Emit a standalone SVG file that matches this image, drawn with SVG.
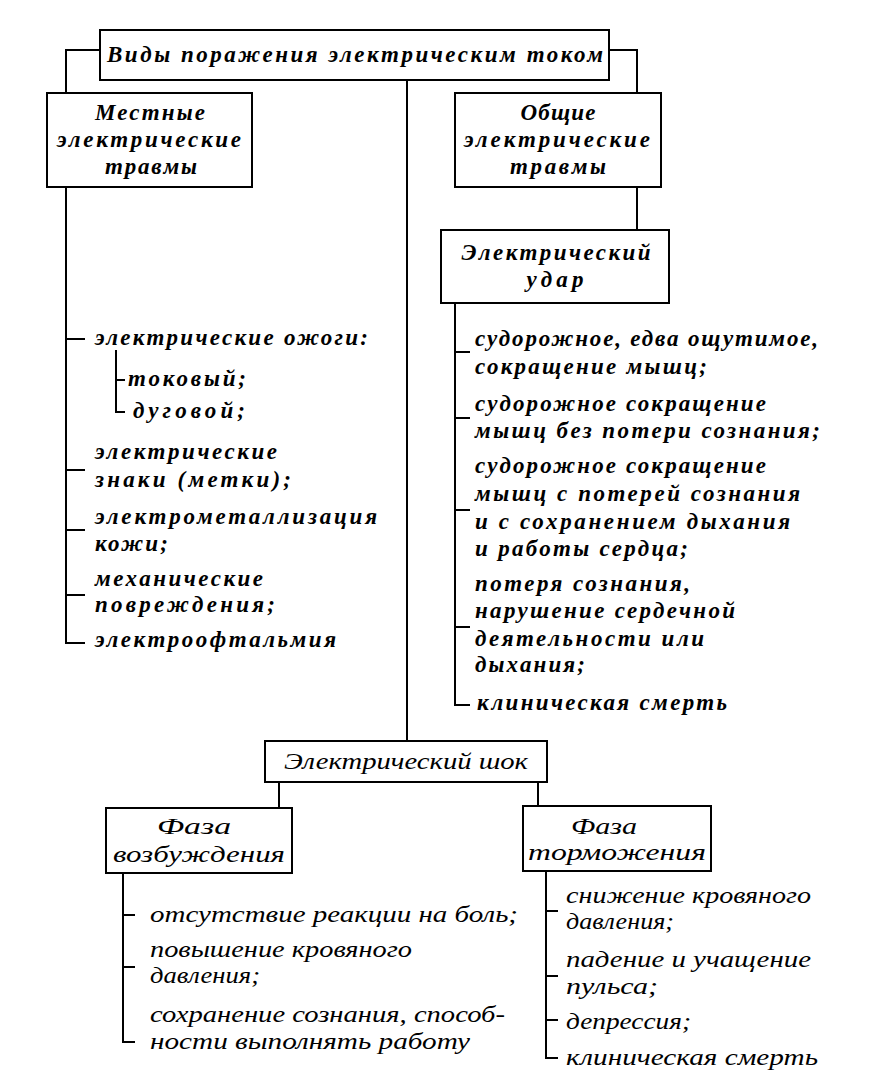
<svg xmlns="http://www.w3.org/2000/svg" width="871" height="1084" viewBox="0 0 871 1084">
<style>
.bx{fill:#fff;stroke:#000;stroke-width:2}
.ln{fill:none;stroke:#000;stroke-width:2}
.t{font-family:"Liberation Serif",serif;font-style:italic;font-weight:bold;font-size:23px;fill:#000}
.c{text-anchor:middle}
.b{font-family:"Liberation Serif",serif;font-style:italic;font-size:24px;fill:#000}
</style>
<rect width="871" height="1084" fill="#fff"/>
<g id="connectors">
<path class="ln" d="M100 50H66V93M609 50H637V93M407 80V741M66 187V643H85M66 339H85M66 470H85M66 530H85M66 595H85M116 350V412H125M116 380H125M637 187V230M455 303V705H470M455 352H470M455 418H470M455 510H470M455 627H470M279 782V808M538 782V806M123 873V1042H135M123 915H135M123 967H135M546 871V1058H558M546 911H558M546 976H558M546 1020H558"/>
</g>
<g id="n-root"><rect class="bx" x="100" y="30" width="509" height="50"/><text class="t c" x="355" y="62" textLength="496" lengthAdjust="spacing">Виды поражения электрическим током</text></g>
<g id="n-local"><rect class="bx" x="47" y="93" width="205" height="94"/>
<text class="t c" x="150" y="120" textLength="110" lengthAdjust="spacing">Местные</text>
<text class="t c" x="149" y="147" textLength="184" lengthAdjust="spacing">электрические</text>
<text class="t c" x="151" y="174" textLength="92" lengthAdjust="spacing">травмы</text></g>
<g id="n-general"><rect class="bx" x="455" y="93" width="206" height="94"/>
<text class="t c" x="558" y="120" textLength="75" lengthAdjust="spacing">Общие</text>
<text class="t c" x="557" y="147" textLength="186" lengthAdjust="spacing">электрические</text>
<text class="t c" x="558" y="174" textLength="96" lengthAdjust="spacing">травмы</text></g>
<g id="n-udar"><rect class="bx" x="441" y="230" width="228" height="73"/>
<text class="t c" x="556" y="260" textLength="189" lengthAdjust="spacing">Электрический</text>
<text class="t c" x="555" y="287" textLength="57" lengthAdjust="spacing">удар</text></g>
<g id="local-list">
<text class="t" x="95" y="345" textLength="273" lengthAdjust="spacing">электрические ожоги:</text>
<text class="t" x="128" y="386" textLength="118" lengthAdjust="spacing">токовый;</text>
<text class="t" x="133" y="418" textLength="112" lengthAdjust="spacing">дуговой;</text>
<text class="t" x="95" y="459" textLength="182" lengthAdjust="spacing">электрические</text>
<text class="t" x="95" y="487" textLength="196" lengthAdjust="spacing">знаки (метки);</text>
<text class="t" x="95" y="524" textLength="282" lengthAdjust="spacing">электрометаллизация</text>
<text class="t" x="95" y="551" textLength="73" lengthAdjust="spacing">кожи;</text>
<text class="t" x="95" y="586" textLength="168" lengthAdjust="spacing">механические</text>
<text class="t" x="95" y="612" textLength="180" lengthAdjust="spacing">повреждения;</text>
<text class="t" x="95" y="647" textLength="241" lengthAdjust="spacing">электроофтальмия</text>
</g>
<g id="udar-list">
<text class="t" x="475" y="346" textLength="343" lengthAdjust="spacing">судорожное, едва ощутимое,</text>
<text class="t" x="475" y="374" textLength="232" lengthAdjust="spacing">сокращение мышц;</text>
<text class="t" x="475" y="411" textLength="291" lengthAdjust="spacing">судорожное сокращение</text>
<text class="t" x="475" y="438" textLength="345" lengthAdjust="spacing">мышц без потери сознания;</text>
<text class="t" x="475" y="473" textLength="291" lengthAdjust="spacing">судорожное сокращение</text>
<text class="t" x="475" y="501" textLength="325" lengthAdjust="spacing">мышц с потерей сознания</text>
<text class="t" x="475" y="529" textLength="315" lengthAdjust="spacing">и с сохранением дыхания</text>
<text class="t" x="475" y="556" textLength="213" lengthAdjust="spacing">и работы сердца;</text>
<text class="t" x="475" y="591" textLength="215" lengthAdjust="spacing">потеря сознания,</text>
<text class="t" x="475" y="618" textLength="260" lengthAdjust="spacing">нарушение сердечной</text>
<text class="t" x="475" y="646" textLength="229" lengthAdjust="spacing">деятельности или</text>
<text class="t" x="475" y="672" textLength="110" lengthAdjust="spacing">дыхания;</text>
<text class="t" x="477" y="710" textLength="250" lengthAdjust="spacing">клиническая смерть</text>
</g>
<g id="n-shock"><rect class="bx" x="265" y="741" width="282" height="41"/>
<text class="b c" x="406" y="769" textLength="244" lengthAdjust="spacingAndGlyphs">Электрический шок</text></g>
<g id="n-excite"><rect class="bx" x="106" y="808" width="186" height="65"/>
<text class="b c" x="194" y="834" textLength="74" lengthAdjust="spacingAndGlyphs">Фаза</text>
<text class="b c" x="199" y="862" textLength="172" lengthAdjust="spacingAndGlyphs">возбуждения</text></g>
<g id="n-inhib"><rect class="bx" x="523" y="806" width="188" height="65"/>
<text class="b c" x="604" y="834" textLength="66" lengthAdjust="spacingAndGlyphs">Фаза</text>
<text class="b c" x="617" y="860" textLength="178" lengthAdjust="spacingAndGlyphs">торможения</text></g>
<g id="excite-list">
<text class="b" x="150" y="922" textLength="368" lengthAdjust="spacingAndGlyphs">отсутствие реакции на боль;</text>
<text class="b" x="150" y="957" textLength="262" lengthAdjust="spacingAndGlyphs">повышение кровяного</text>
<text class="b" x="150" y="983" textLength="110" lengthAdjust="spacingAndGlyphs">давления;</text>
<text class="b" x="150" y="1022" textLength="355" lengthAdjust="spacingAndGlyphs">сохранение сознания, способ-</text>
<text class="b" x="150" y="1049" textLength="320" lengthAdjust="spacingAndGlyphs">ности выполнять работу</text>
</g>
<g id="inhib-list">
<text class="b" x="566" y="903" textLength="245" lengthAdjust="spacingAndGlyphs">снижение кровяного</text>
<text class="b" x="566" y="929" textLength="108" lengthAdjust="spacingAndGlyphs">давления;</text>
<text class="b" x="566" y="967" textLength="245" lengthAdjust="spacingAndGlyphs">падение и учащение</text>
<text class="b" x="566" y="994" textLength="92" lengthAdjust="spacingAndGlyphs">пульса;</text>
<text class="b" x="566" y="1029" textLength="125" lengthAdjust="spacingAndGlyphs">депрессия;</text>
<text class="b" x="566" y="1065" textLength="252" lengthAdjust="spacingAndGlyphs">клиническая смерть</text>
</g>
</svg>
